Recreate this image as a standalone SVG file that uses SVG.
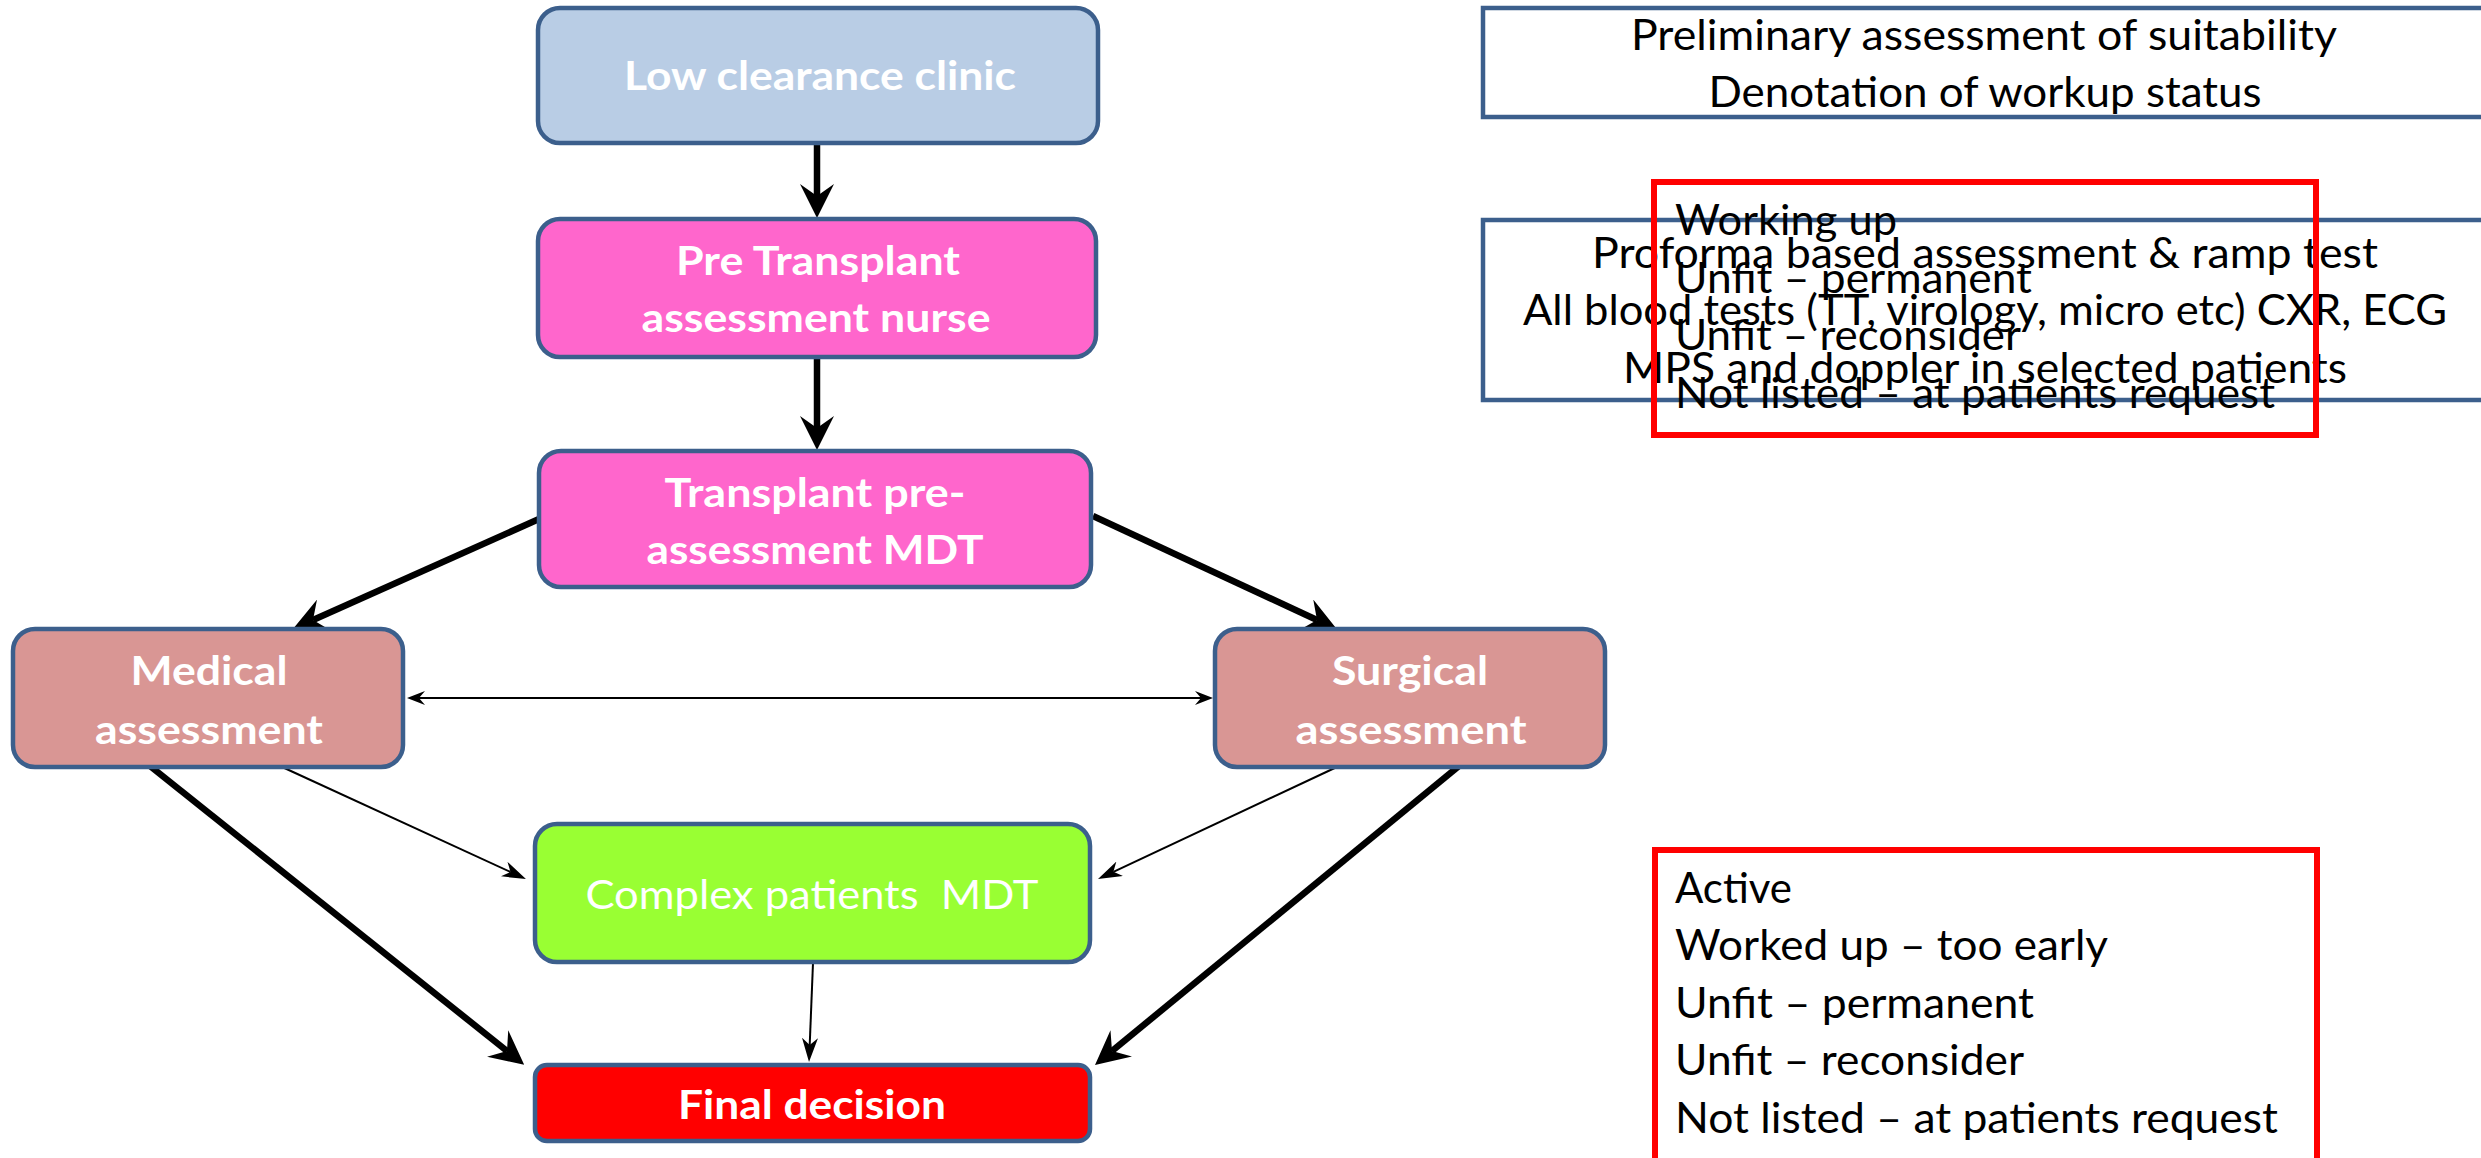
<svg xmlns="http://www.w3.org/2000/svg" width="2481" height="1158" viewBox="0 0 2481 1158">
<style>
.node{stroke:#3c5f8c;stroke-width:4.5}
.nt{font-family:Lato,"Liberation Sans",sans-serif;font-size:40px;font-weight:bold;fill:#ffffff;text-anchor:middle}
.nr{font-family:Lato,"Liberation Sans",sans-serif;font-size:40px;fill:#ffffff;text-anchor:middle;white-space:pre}
.bt{font-family:Lato,"Liberation Sans",sans-serif;font-size:42px;fill:#000000}
.c{text-anchor:middle}
.thick{stroke:#000;stroke-width:6.5;fill:none}
.thin{stroke:#000;stroke-width:2;fill:none}
.blue{fill:none;stroke:#3c5f8c;stroke-width:4.5}
.red{fill:none;stroke:#ff0000;stroke-width:6}
</style>
<defs>
<marker id="hk" viewBox="0 0 34 34" refX="12" refY="17" markerWidth="34" markerHeight="34" markerUnits="userSpaceOnUse" orient="auto"><path d="M0,0 L34,17 L0,34 L12,17 Z" fill="#000"/></marker>
<marker id="hn" viewBox="0 0 24 16" refX="7" refY="8" markerWidth="24" markerHeight="16" markerUnits="userSpaceOnUse" orient="auto"><path d="M0,0 L24,8 L0,16 L7,8 Z" fill="#000"/></marker>
<marker id="hd" viewBox="0 0 18 14" refX="6" refY="7" markerWidth="18" markerHeight="14" markerUnits="userSpaceOnUse" orient="auto-start-reverse"><path d="M0,0 L18,7 L0,14 L6,7 Z" fill="#000"/></marker>
</defs>
<rect width="2481" height="1158" fill="#ffffff"/>

<g id="connectors">
<line class="thick" x1="817" y1="144" x2="817" y2="196" marker-end="url(#hk)"/>
<line class="thick" x1="817" y1="358" x2="817" y2="428" marker-end="url(#hk)"/>
<line class="thick" x1="539" y1="519" x2="313" y2="620" marker-end="url(#hk)"/>
<line class="thick" x1="1093" y1="516" x2="1317" y2="620" marker-end="url(#hk)"/>
<line class="thick" x1="150" y1="766" x2="507" y2="1051" marker-end="url(#hk)"/>
<line class="thick" x1="1459" y1="766" x2="1112" y2="1051" marker-end="url(#hk)"/>
<line class="thin" x1="280" y1="766" x2="510.5" y2="872" marker-end="url(#hn)"/>
<line class="thin" x1="1339" y1="766" x2="1113.4" y2="871.8" marker-end="url(#hn)"/>
<line class="thin" x1="813" y1="963" x2="809.7" y2="1045" marker-end="url(#hn)"/>
<line class="thin" x1="419" y1="698" x2="1201" y2="698" marker-start="url(#hd)" marker-end="url(#hd)"/>
</g>

<g id="low-clearance">
<rect class="node" x="538" y="8" width="560" height="135" rx="22" fill="#b9cde5"/>
<text class="nt" x="820" y="90" textLength="392" lengthAdjust="spacingAndGlyphs">Low clearance clinic</text>
</g>
<g id="pre-transplant-nurse">
<rect class="node" x="538" y="219" width="558" height="138" rx="22" fill="#ff66cc"/>
<text class="nt" x="818" y="275" textLength="284" lengthAdjust="spacingAndGlyphs">Pre Transplant</text>
<text class="nt" x="816" y="332" textLength="349" lengthAdjust="spacingAndGlyphs">assessment nurse</text>
</g>
<g id="transplant-mdt">
<rect class="node" x="539" y="451" width="552" height="136" rx="22" fill="#ff66cc"/>
<text class="nt" x="815" y="507" textLength="301" lengthAdjust="spacingAndGlyphs">Transplant pre-</text>
<text class="nt" x="815" y="564" textLength="337" lengthAdjust="spacingAndGlyphs">assessment MDT</text>
</g>
<g id="medical">
<rect class="node" x="13" y="629" width="390" height="138" rx="22" fill="#d99694"/>
<text class="nt" x="209" y="685" textLength="157" lengthAdjust="spacingAndGlyphs">Medical</text>
<text class="nt" x="209" y="744" textLength="228" lengthAdjust="spacingAndGlyphs">assessment</text>
</g>
<g id="surgical">
<rect class="node" x="1215" y="629" width="390" height="138" rx="22" fill="#d99694"/>
<text class="nt" x="1410" y="685" textLength="156" lengthAdjust="spacingAndGlyphs">Surgical</text>
<text class="nt" x="1411" y="744" textLength="231" lengthAdjust="spacingAndGlyphs">assessment</text>
</g>
<g id="complex-mdt">
<rect class="node" x="535" y="824" width="555" height="138" rx="22" fill="#99ff33"/>
<text class="nr" x="812" y="909" textLength="453" lengthAdjust="spacingAndGlyphs">Complex patients  MDT</text>
</g>
<g id="final-decision">
<rect class="node" x="535" y="1065" width="555" height="76" rx="12" fill="#ff0000"/>
<text class="nt" x="812" y="1119" textLength="268" lengthAdjust="spacingAndGlyphs">Final decision</text>
</g>

<g id="note-preliminary">
<rect class="blue" x="1483" y="8" width="1100" height="109"/>
<text class="bt c" x="1984" y="50" textLength="706" lengthAdjust="spacingAndGlyphs">Preliminary assessment of suitability</text>
<text class="bt c" x="1985" y="107" textLength="553" lengthAdjust="spacingAndGlyphs">Denotation of workup status</text>
</g>
<g id="note-proforma">
<rect class="blue" x="1483" y="220" width="1100" height="180"/>
<text class="bt c" x="1985" y="268" textLength="786" lengthAdjust="spacingAndGlyphs">Proforma based assessment &amp; ramp test</text>
<text class="bt c" x="1985" y="325" textLength="924" lengthAdjust="spacingAndGlyphs">All blood tests (TT, virology, micro etc) CXR, ECG</text>
<text class="bt c" x="1985" y="383" textLength="724" lengthAdjust="spacingAndGlyphs">MPS and doppler in selected patients</text>
</g>
<g id="status-top">
<rect class="red" x="1654" y="182" width="662" height="253"/>
<text class="bt" x="1675" y="235" textLength="222" lengthAdjust="spacingAndGlyphs">Working up</text>
<text class="bt" x="1675" y="293" textLength="357" lengthAdjust="spacingAndGlyphs">Unfit – permanent</text>
<text class="bt" x="1675" y="350" textLength="346" lengthAdjust="spacingAndGlyphs">Unfit – reconsider</text>
<text class="bt" x="1675" y="408" textLength="600" lengthAdjust="spacingAndGlyphs">Not listed – at patients request</text>
</g>
<g id="status-bottom">
<rect class="red" x="1655" y="850" width="662" height="400"/>
<text class="bt" x="1675" y="903" textLength="117" lengthAdjust="spacingAndGlyphs">Active</text>
<text class="bt" x="1675" y="960" textLength="433" lengthAdjust="spacingAndGlyphs">Worked up – too early</text>
<text class="bt" x="1675" y="1018" textLength="359" lengthAdjust="spacingAndGlyphs">Unfit – permanent</text>
<text class="bt" x="1675" y="1075" textLength="349" lengthAdjust="spacingAndGlyphs">Unfit – reconsider</text>
<text class="bt" x="1675" y="1133" textLength="603" lengthAdjust="spacingAndGlyphs">Not listed – at patients request</text>
</g>
</svg>
